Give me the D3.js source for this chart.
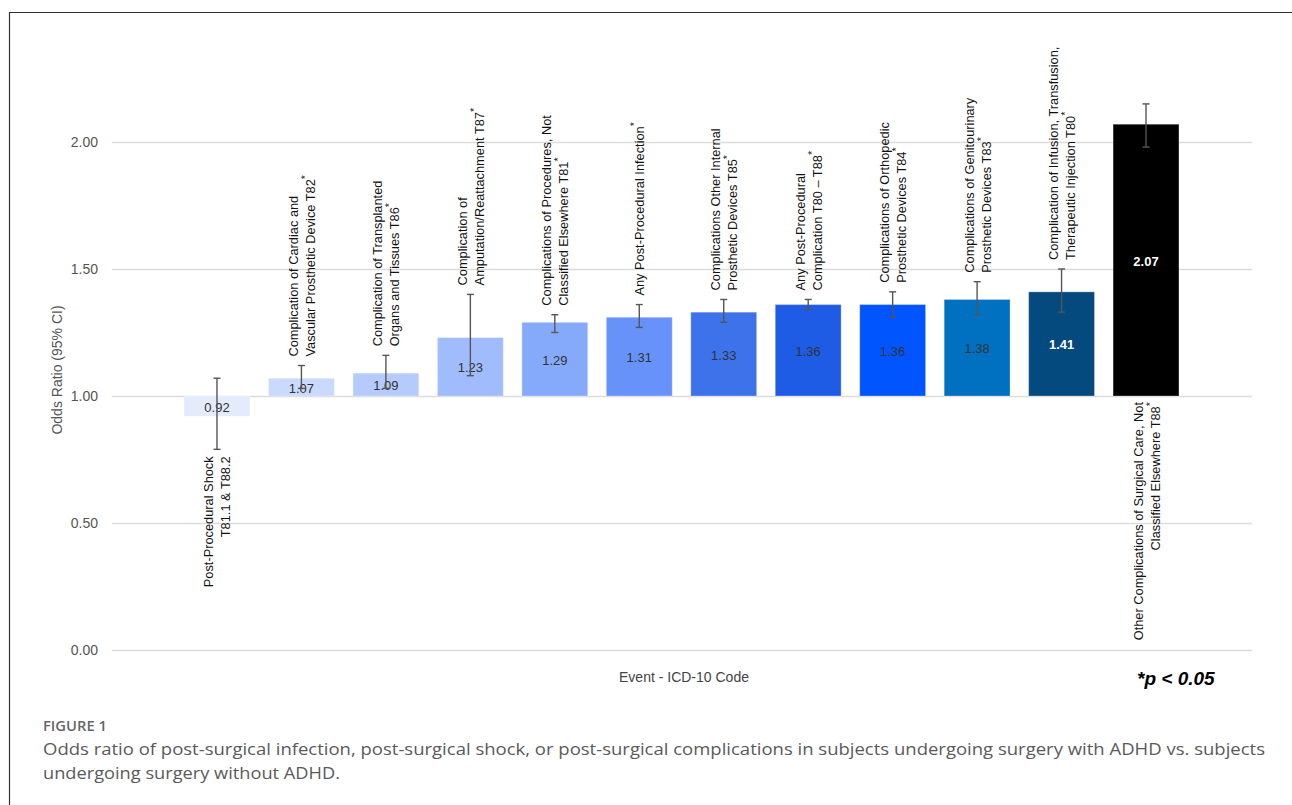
<!DOCTYPE html>
<html>
<head>
<meta charset="utf-8">
<script src="https://cdn.jsdelivr.net/npm/d3@7"></script>
<style>
  html, body { margin: 0; padding: 0; background: #fff; }
  svg { display: block; }
</style>
</head>
<body>
<script>
// ---- data ----
const labels = [
  ["Post-Procedural Shock", "T81.1 & T88.2"],
  ["Complication of Cardiac and", "Vascular Prosthetic Device T82*"],
  ["Complication of Transplanted", "Organs and Tissues T86*"],
  ["Complication of", "Amputation/Reattachment T87*"],
  ["Complications of Procedures, Not", "Classified Elsewhere T81*"],
  ["Any Post-Procedural Infection*"],
  ["Complications Other Internal", "Prosthetic Devices T85*"],
  ["Any Post-Procedural", "Complication T80 \u2013 T88*"],
  ["Complications of Orthopedic", "Prosthetic Devices T84*"],
  ["Complications of Genitourinary", "Prosthetic Devices T83*"],
  ["Complication of Infusion, Transfusion,", "Therapeutic Injection T80*"],
  ["Other Complications of Surgical Care, Not", "Classified Elsewhere T88*"]
];
const values = [0.92, 1.07, 1.09, 1.23, 1.29, 1.31, 1.33, 1.36, 1.36, 1.38, 1.41, 2.07];
const ciLow  = [0.79, 1.03, 1.03, 1.08, 1.25, 1.27, 1.29, 1.34, 1.31, 1.32, 1.33, 1.98];
const ciHigh = [1.07, 1.12, 1.16, 1.40, 1.32, 1.36, 1.38, 1.38, 1.41, 1.45, 1.50, 2.15];
const colors = ["#e3ebfd", "#c9dafc", "#b4cbfb", "#a0bcfc", "#86aafb", "#6692f9",
                "#3d72ea", "#1f5ce6", "#0055fe", "#0070c0", "#054a7e", "#000000"];
const valueTextColors = ["#333", "#333", "#333", "#333", "#333", "#333",
                         "#333", "#333", "#333", "#333", "#fff", "#fff"];
const yTicks = [0, 0.5, 1.0, 1.5, 2.0];
const baseline = 1.0;
const captionTitle = "FIGURE 1";
const captionLines = [
  "Odds ratio of post-surgical infection, post-surgical shock, or post-surgical complications in subjects undergoing surgery with ADHD vs. subjects",
  "undergoing surgery without ADHD."
];

// ---- drawing ----
const W = 1292, H = 805;
const svg = d3.select("body").append("svg").attr("width", W).attr("height", H);
const font = "'Liberation Sans', Arial, sans-serif";

// outer frame
svg.append("path").attr("d", `M9.5,${H} L9.5,12.5 L${W},12.5`)
  .attr("fill", "none").attr("stroke", "#333").attr("stroke-width", 1.2);

const y = d3.scaleLinear().domain([0, 2]).range([650, 142]);
const x = d3.scaleBand().domain(d3.range(values.length))
  .range([174.75, 1188.25]).paddingInner(0.22).paddingOuter(0.11);

const gridX0 = 112, gridX1 = 1252;

// y axis via d3.axisLeft, restyled
const yAxis = svg.append("g").attr("transform", `translate(${gridX0},0)`)
  .call(d3.axisLeft(y).tickValues(yTicks).tickFormat(d3.format(".2f"))
        .tickSize(-(gridX1 - gridX0)).tickPadding(14));
yAxis.select(".domain").remove();
yAxis.selectAll(".tick line").attr("stroke", "#dcdcdc").attr("stroke-width", 1.3);
yAxis.selectAll(".tick text").attr("fill", "#555").attr("font-size", 14)
  .attr("font-family", font);

// y axis title
svg.append("text")
  .attr("transform", `translate(62,370) rotate(-90)`)
  .attr("text-anchor", "middle").attr("font-family", font)
  .attr("font-size", 14).attr("fill", "#555")
  .text("Odds Ratio (95% CI)");

// bars
const bw = x.bandwidth();
svg.append("g").selectAll("rect").data(values).join("rect")
  .attr("x", (d, i) => x(i))
  .attr("y", d => Math.min(y(d), y(baseline)))
  .attr("width", bw)
  .attr("height", d => Math.abs(y(d) - y(baseline)))
  .attr("fill", (d, i) => colors[i])
  .attr("stroke", "rgba(255,255,255,0.3)").attr("stroke-width", 1);

// value labels
svg.append("g").selectAll("text").data(values).join("text")
  .attr("x", (d, i) => x(i) + bw / 2)
  .attr("y", d => (y(d) + y(baseline)) / 2 + 1)
  .attr("text-anchor", "middle").attr("dominant-baseline", "central")
  .attr("font-family", font).attr("font-size", 13)
  .attr("font-weight", (d, i) => i >= 10 ? "bold" : "normal")
  .attr("fill", (d, i) => valueTextColors[i])
  .text(d => d.toFixed(2));

// error bars
const eg = svg.append("g").attr("stroke", "#555").attr("stroke-width", 1.4).attr("fill", "none");
values.forEach((v, i) => {
  const cx = x(i) + bw / 2;
  eg.append("line").attr("x1", cx).attr("x2", cx).attr("y1", y(ciLow[i])).attr("y2", y(ciHigh[i]));
  [ciLow[i], ciHigh[i]].forEach(c => {
    eg.append("line").attr("x1", cx - 3.5).attr("x2", cx + 3.5).attr("y1", y(c)).attr("y2", y(c));
  });
});

// category labels (rotated)
labels.forEach((lines, i) => {
  const cx = x(i) + bw / 2;
  let anchorY, anchor;
  if (i === 0) { anchorY = y(ciLow[i]) + 7; anchor = "end"; }
  else if (values[i] > 2) { anchorY = y(baseline) + 6; anchor = "end"; }
  else { anchorY = y(ciHigh[i]) - 9; anchor = "start"; }
  const g = svg.append("g").attr("transform", `translate(${cx},${anchorY}) rotate(-90)`);
  const n = lines.length;
  lines.forEach((ln, k) => {
    const off = (k - (n - 1) / 2) * 17;
    const t = g.append("text").attr("x", 0).attr("y", off)
      .attr("text-anchor", anchor).attr("dominant-baseline", "central")
      .attr("font-family", font).attr("font-size", 12.8).attr("fill", "#111");
    const star = ln.endsWith("*");
    t.append("tspan").text(star ? ln.slice(0, -1) : ln);
    if (star) {
      t.append("tspan").attr("font-size", 11).attr("dy", -5).text("*");
    }
  });
});

// x axis title
svg.append("text").attr("x", 684).attr("y", 682)
  .attr("text-anchor", "middle").attr("font-family", font)
  .attr("font-size", 14).attr("fill", "#444")
  .text("Event - ICD-10 Code");

svg.append("text").attr("x", 1137).attr("y", 685)
  .attr("font-family", font).attr("font-size", 19)
  .attr("font-weight", "bold").attr("font-style", "italic").attr("fill", "#000")
  .text("*p < 0.05");

// caption
const capFont = "'Open Sans', 'Noto Sans', sans-serif";
svg.append("text").attr("x", 43).attr("y", 731)
  .attr("font-family", capFont).attr("font-size", 13.5).attr("font-weight", 600)
  .attr("fill", "#666").attr("textLength", 64).attr("lengthAdjust", "spacingAndGlyphs")
  .text(captionTitle);
svg.append("text").attr("x", 43).attr("y", 755)
  .attr("font-family", capFont).attr("font-size", 16.5).attr("fill", "#5a5a5a")
  .attr("textLength", 1222).attr("lengthAdjust", "spacingAndGlyphs")
  .text(captionLines[0]);
svg.append("text").attr("x", 43).attr("y", 779)
  .attr("font-family", capFont).attr("font-size", 16.5).attr("fill", "#5a5a5a")
  .attr("textLength", 297).attr("lengthAdjust", "spacingAndGlyphs")
  .text(captionLines[1]);
</script>
</body>
</html>
